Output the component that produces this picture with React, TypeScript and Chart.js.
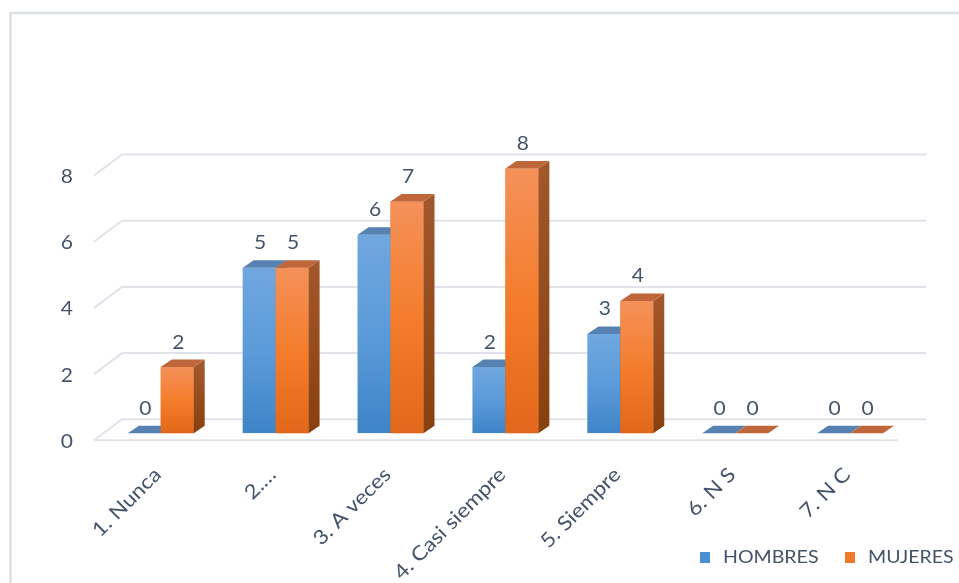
import React, { useEffect, useRef } from "react";
import { Chart, registerables } from "chart.js";

Chart.register(...registerables);

// ---- data ----
const categories = ["1. Nunca", "2.…", "3. A veces", "4. Casi siempre", "5. Siempre", "6. N S", "7. N C"];
const hombres = [0, 5, 6, 2, 3, 0, 0];
const mujeres = [2, 5, 7, 8, 4, 0, 0];
const seriesNames = ["HOMBRES", "MUJERES"];
const yTicks = [0, 2, 4, 6, 8];

// ---- style ----
const FONT = "Lato, 'Open Sans', sans-serif";
const TEXT = "#44536a";
const GRID = "#e0e3e9";
const STRETCH = 1.12;
const palette = [
  { light: "#70a7df", mid: "#5b9bd9", dark: "#3f84c8", top: "#5681b0", sideTop: "#3f6e9f", sideBottom: "#2f5d8e", legend: "#4a8fd4" },
  { light: "#f4915a", mid: "#f47d2c", dark: "#e2671a", top: "#bf673a", sideTop: "#a2572b", sideBottom: "#88400e", legend: "#f07a2a" },
];
// 3D geometry (pixels)
const DX = 11, DY = 7.5;
const FRONT_DX = -9.3, FRONT_DY = 7;
const BACK_DX = 18.7, BACK_DY = -14;

function stretchedText(ctx: CanvasRenderingContext2D, text: string, x: number, y: number, sx: number) {
  ctx.save();
  ctx.translate(x, y);
  ctx.scale(sx, 1);
  ctx.fillText(text, 0, 0);
  ctx.restore();
}

function drawFaces(ctx: CanvasRenderingContext2D, el: any, col: any) {
  const { x, y, base, width } = el.getProps(["x", "y", "base", "width"], true);
  const l = x - width / 2, r = x + width / 2;
  if (base - y > 0.5) {
    const g = ctx.createLinearGradient(0, y, 0, base);
    g.addColorStop(0, col.sideTop);
    g.addColorStop(1, col.sideBottom);
    ctx.fillStyle = g;
    ctx.beginPath();
    ctx.moveTo(r, y);
    ctx.lineTo(r + DX, y - DY);
    ctx.lineTo(r + DX, base - DY);
    ctx.lineTo(r, base);
    ctx.closePath();
    ctx.fill();
  }
  ctx.fillStyle = col.top;
  ctx.beginPath();
  ctx.moveTo(l, y);
  ctx.lineTo(r, y);
  ctx.lineTo(r + DX, y - DY);
  ctx.lineTo(l + DX, y - DY);
  ctx.closePath();
  ctx.fill();
}

const fake3d = {
  id: "fake3d",
  beforeDatasetsDraw(chart: any) {
    const { ctx, chartArea: a, scales } = chart;
    const y = scales.y;
    const x = scales.x;
    ctx.save();
    // outer border
    ctx.strokeStyle = "#dde1e8";
    ctx.lineWidth = 2.5;
    ctx.beginPath();
    ctx.moveTo(10.5, 600);
    ctx.lineTo(10.5, 13);
    ctx.lineTo(980, 13);
    ctx.stroke();

    // walls gridlines
    ctx.strokeStyle = GRID;
    ctx.lineWidth = 2;
    for (const v of yTicks) {
      const py = y.getPixelForValue(v);
      ctx.beginPath();
      ctx.moveTo(a.left + FRONT_DX, py + FRONT_DY);
      ctx.lineTo(a.left + BACK_DX, py + BACK_DY);
      ctx.lineTo(a.right + BACK_DX, py + BACK_DY);
      ctx.stroke();
    }
    const p0 = y.getPixelForValue(0);
    ctx.beginPath();
    ctx.moveTo(a.left + FRONT_DX, p0 + FRONT_DY);
    ctx.lineTo(a.right + FRONT_DX, p0 + FRONT_DY);
    ctx.stroke();

    // y tick labels
    ctx.fillStyle = TEXT;
    ctx.font = `20px ${FONT}`;
    ctx.textAlign = "right";
    ctx.textBaseline = "middle";
    for (const v of yTicks) {
      const py = y.getPixelForValue(v);
      stretchedText(ctx, String(v), a.left + FRONT_DX - 21, py + FRONT_DY + 1, 1.05);
    }

    // category labels (rotated)
    ctx.font = `20px ${FONT}`;
    ctx.textAlign = "right";
    ctx.textBaseline = "middle";
    categories.forEach((c, i) => {
      const px = x.getPixelForValue(i);
      ctx.save();
      ctx.translate(px - 3, p0 + 38);
      ctx.rotate(-Math.PI / 4);
      ctx.scale(STRETCH, 1);
      ctx.fillText(c, 0, 0);
      ctx.restore();
    });

    // legend
    ctx.font = `17px ${FONT}`;
    ctx.textAlign = "left";
    ctx.textBaseline = "alphabetic";
    const legendX = [700, 845];
    seriesNames.forEach((n, i) => {
      ctx.fillStyle = palette[i].legend;
      ctx.fillRect(legendX[i], 552, 10, 11);
      ctx.fillStyle = TEXT;
      stretchedText(ctx, n, legendX[i] + 23, 563, 1.15);
    });
    ctx.restore();
  },
  afterDatasetsDraw(chart: any) {
    const { ctx } = chart;
    const metaH = chart.getDatasetMeta(0);
    const metaM = chart.getDatasetMeta(1);
    ctx.save();
    // per category: blue faces, then orange bar (redrawn on top) and its faces
    categories.forEach((_, i) => {
      drawFaces(ctx, metaH.data[i], palette[0]);
      metaM.data[i].draw(ctx);
      drawFaces(ctx, metaM.data[i], palette[1]);
    });
    // data labels
    ctx.fillStyle = TEXT;
    ctx.font = `20px ${FONT}`;
    ctx.textAlign = "center";
    ctx.textBaseline = "middle";
    chart.data.datasets.forEach((ds: any, di: number) => {
      const meta = chart.getDatasetMeta(di);
      meta.data.forEach((el: any, i: number) => {
        const { x, y } = el.getProps(["x", "y"], true);
        stretchedText(ctx, String(ds.data[i]), x + 1, y - 25, 1.05);
      });
    });
    ctx.restore();
  },
};

function frontGradient(idx: number) {
  return (c: any) => {
    const chart = c.chart;
    const col = palette[idx];
    if (!chart.chartArea || c.type !== "data") return col.light;
    const ys = chart.scales.y;
    const top = ys.getPixelForValue(c.raw);
    const base = ys.getPixelForValue(0);
    if (base - top < 1) return col.dark;
    const g = chart.ctx.createLinearGradient(0, top, 0, base);
    g.addColorStop(0, col.light);
    g.addColorStop(0.5, col.mid);
    g.addColorStop(1, col.dark);
    return g;
  };
}

export default function App() {
  const ref = useRef<HTMLCanvasElement | null>(null);
  useEffect(() => {
    document.body.style.margin = "0";
    document.body.style.background = "#ffffff";
    const canvas = ref.current!;
    const chart = new Chart(canvas, {
      type: "bar",
      data: {
        labels: categories,
        datasets: [
          { label: seriesNames[0], data: hombres, backgroundColor: frontGradient(0), borderWidth: 0 },
          { label: seriesNames[1], data: mujeres, backgroundColor: frontGradient(1), borderWidth: 0 },
        ],
      },
      options: {
        animation: false,
        responsive: false,
        devicePixelRatio: 1,
        layout: { padding: { left: 103.3, right: 51.5, top: 168.5, bottom: 149.7 } },
        datasets: { bar: { categoryPercentage: 0.574, barPercentage: 1, inflateAmount: 0 } },
        scales: {
          x: { display: false, offset: true },
          y: { display: false, min: 0, max: 8, ticks: { stepSize: 2 } },
        },
        plugins: { legend: { display: false }, tooltip: { enabled: false } },
      } as any,
      plugins: [fake3d],
    });
    return () => chart.destroy();
  }, []);
  return (
    <div style={{ width: 959, height: 583 }}>
      <canvas ref={ref} width={959} height={583} style={{ width: 959, height: 583, display: "block" }} />
    </div>
  );
}
